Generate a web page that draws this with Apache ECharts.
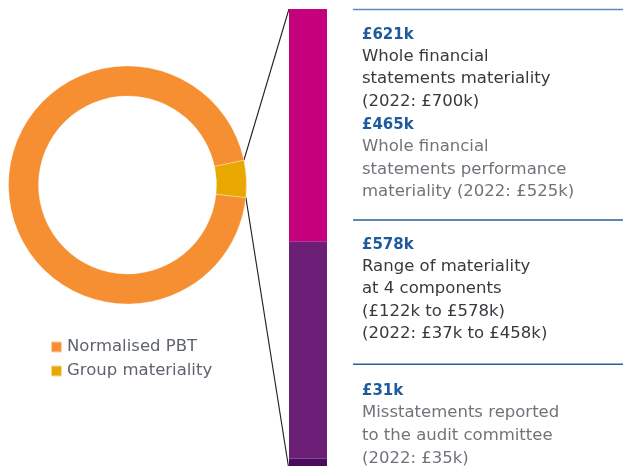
<!DOCTYPE html>
<html>
<head>
<meta charset="utf-8">
<script src="https://cdn.jsdelivr.net/npm/echarts@6/dist/echarts.min.js"></script>
<style>
  html, body { margin: 0; padding: 0; background: #ffffff; }
  #chart { width: 623px; height: 466px; }
</style>
</head>
<body>
<div id="chart"></div>
<script>
// Donut: share of normalised PBT taken up by group materiality (%)
const pieNames = ['Normalised PBT', 'Group materiality'];
const pieValues = [95, 5];
const pieColors = ['#F58F32', '#E9A800'];

// Stacked bar: materiality levels (£k), top to bottom
const barNames = ['Whole financial statements materiality', 'Range of materiality at 4 components', 'Misstatements reported to the audit committee'];
const barValues = [621, 578, 31];
const barColors = ['#C5007D', '#6C1F77', '#4B0B5E'];

// Performance materiality (£k), stated in the first text block
const performanceMateriality = 465;

// Description lines for each text block
const block1Lines = ['Whole financial', 'statements materiality', '(2022: £700k)'];
const block1bLines = ['Whole financial', 'statements performance', 'materiality (2022: £525k)'];
const block2Lines = ['Range of materiality', 'at 4 components', '(£122k to £578k)', '(2022: £37k to £458k)'];
const block3Lines = ['Misstatements reported', 'to the audit committee', '(2022: £35k)'];

const FONT = '"DejaVu Sans", sans-serif';
const fmtK = v => '£' + v + 'k';

const chart = echarts.init(document.getElementById('chart'), null, { renderer: 'canvas' });

const PIE_CENTER = [127.5, 185];
const PIE_RADIUS = [89, 119];
const PIE_START = 12;

const barTotal = barValues.reduce((a, b) => a + b, 0);

chart.setOption({
  animation: false,
  backgroundColor: '#ffffff',
  legend: {
    data: pieNames,
    orient: 'vertical',
    left: 50,
    top: 337,
    padding: 0,
    itemWidth: 11,
    itemHeight: 11,
    itemGap: 4,
    icon: 'rect',
    selectedMode: false,
    textStyle: { fontFamily: FONT, fontSize: 16.5, color: '#5E636E', lineHeight: 20 }
  },
  // the bar runs on past the lower edge of the page
  grid: { left: 289, top: 9, width: 38, height: 461, outerBoundsMode: 'none', containLabel: false },
  xAxis: { type: 'category', data: ['materiality'], show: false },
  yAxis: { type: 'value', inverse: true, min: 0, max: barTotal, show: false },
  series: [
    {
      type: 'pie',
      silent: true,
      center: PIE_CENTER,
      radius: PIE_RADIUS,
      startAngle: PIE_START,
      clockwise: false,
      label: { show: false },
      labelLine: { show: false },
      itemStyle: { borderColor: 'rgba(255,255,255,0.6)', borderWidth: 0.5 },
      data: pieNames.map((n, i) => ({ name: n, value: pieValues[i], itemStyle: { color: pieColors[i] } }))
    }
  ].concat(barNames.map((n, i) => ({
    type: 'bar',
    name: n,
    stack: 'm',
    silent: true,
    barWidth: '100%',
    clip: false,
    itemStyle: { color: barColors[i] },
    data: [barValues[i]]
  })))
});

// Connector lines from the edges of the materiality slice to the ends of the bar
const pieTotal = pieValues.reduce((a, b) => a + b, 0);
const sliceStart = PIE_START + 360 * pieValues[0] / pieTotal; // counter-clockwise
const sliceEnd = PIE_START + 360;
const R = PIE_RADIUS[1];
const rad = d => d * Math.PI / 180;
const edgeTop = [PIE_CENTER[0] + R * Math.cos(rad(sliceEnd)), PIE_CENTER[1] - R * Math.sin(rad(sliceEnd))];
const edgeBottom = [PIE_CENTER[0] + R * Math.cos(rad(sliceStart)), PIE_CENTER[1] - R * Math.sin(rad(sliceStart))];
const barTop = chart.convertToPixel({ gridIndex: 0 }, [0, 0]);
const barBottom = chart.convertToPixel({ gridIndex: 0 }, [0, barTotal]);
const barLeft = barTop[0] - 19;

const graphics = [
  { type: 'line', silent: true, shape: { x1: edgeTop[0], y1: edgeTop[1], x2: barLeft, y2: barTop[1] }, style: { stroke: '#1f1f1f', lineWidth: 1.1 } },
  { type: 'line', silent: true, shape: { x1: edgeBottom[0], y1: edgeBottom[1], x2: barLeft, y2: barBottom[1] }, style: { stroke: '#1f1f1f', lineWidth: 1.1 } }
];

// Text column
const TX = 362;
const LH = 22.6;
function rule(y, color) {
  graphics.push({ type: 'line', silent: true, shape: { x1: 353, y1: y, x2: 623, y2: y }, style: { stroke: color, lineWidth: 1.5 } });
}
function textLine(str, baseline, style) {
  graphics.push({
    type: 'text', silent: true, x: TX, y: baseline,
    style: Object.assign({ text: str, fontFamily: FONT, verticalAlign: 'bottom', align: 'left' }, style)
  });
}
const valueStyle = { fontSize: 15, fontWeight: 'bold', fill: '#1F5A9C' };
const darkStyle = { fontSize: 16.5, fill: '#38383E' };
const lightStyle = { fontSize: 16.5, fill: '#707379' };

function block(valueText, lines, firstBaseline, bodyStyle) {
  textLine(valueText, firstBaseline + 3, valueStyle);
  lines.forEach((l, i) => textLine(l, firstBaseline + 3 + LH * (i + 1), bodyStyle));
  return firstBaseline + LH * (lines.length + 1);
}

rule(9.5, '#5A86BD');
let b = block(fmtK(barValues[0]), block1Lines, 39.3, darkStyle);
block(fmtK(performanceMateriality), block1bLines, b, lightStyle);
rule(220, '#2B5C9E');
block(fmtK(barValues[1]), block2Lines, 249.3, darkStyle);
rule(364.3, '#2B5C9E');
block(fmtK(barValues[2]), block3Lines, 396, lightStyle);

chart.setOption({ graphic: graphics });
</script>
</body>
</html>
